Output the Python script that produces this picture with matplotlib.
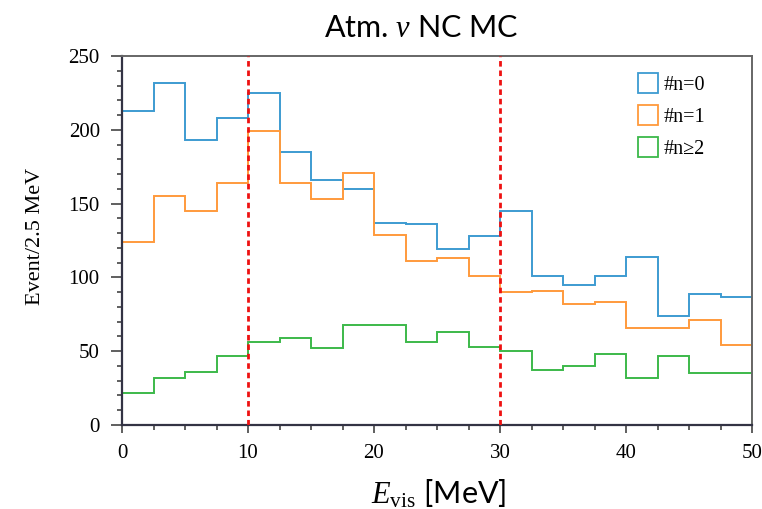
import numpy as np
import matplotlib.pyplot as plt
from matplotlib.patches import Patch
from matplotlib.ticker import MultipleLocator

# --- binned event counts, 2.5 MeV bins from 0 to 50 MeV ---
edges = np.arange(0, 50.01, 2.5)
n0 = [213, 232, 193, 208, 225, 185, 166, 160, 137, 136,
      119, 128, 145, 101, 95, 101, 114, 74, 89, 87]
n1 = [124, 155, 145, 164, 199, 164, 153, 171, 129, 111,
      113, 101, 90, 91, 82, 83, 66, 66, 71, 54]
n2 = [22, 32, 36, 47, 56, 59, 52, 68, 68, 56,
      63, 53, 50, 37, 40, 48, 32, 47, 35, 35]
labels = ["#n=0", "#n=1", "#n\u22652"]
colors = ["#3d9bd1", "#ff9a3c", "#3cb94a"]
cuts = [10, 30]

plt.rcParams["mathtext.fontset"] = "custom"
plt.rcParams["mathtext.rm"] = "Liberation Serif"
plt.rcParams["mathtext.it"] = "Liberation Serif:italic"

W, H = 762, 509
fig = plt.figure(figsize=(W / 100, H / 100), dpi=100)
ax = fig.add_axes([122 / W, 1 - 425 / H, 630 / W, 369 / H])

for vals, c in zip([n0, n1, n2], colors):
    ax.stairs(vals, edges, color=c, linewidth=1.4)

for x in cuts:
    ax.axvline(x, color="#ee1111", linestyle=(0, (2, 1.4)), linewidth=2.0, zorder=3)

ax.set_xlim(0, 50)
ax.set_ylim(0, 250)
ax.xaxis.set_major_locator(MultipleLocator(10))
ax.xaxis.set_minor_locator(MultipleLocator(2.5))
ax.yaxis.set_major_locator(MultipleLocator(50))
ax.yaxis.set_minor_locator(MultipleLocator(10))
ax.tick_params(which="both", direction="out", top=False, right=False,
               color="#444444", width=1.2)
ax.tick_params(axis="y", which="major", length=8, labelsize=15, pad=8)
ax.tick_params(axis="x", which="major", length=6, labelsize=15, pad=8)
ax.tick_params(which="minor", length=3.5)
for lab in ax.get_xticklabels() + ax.get_yticklabels():
    lab.set_family("Liberation Serif")

for s in ["left", "bottom"]:
    ax.spines[s].set_color("#333344")
    ax.spines[s].set_linewidth(1.6)
for s in ["top", "right"]:
    ax.spines[s].set_color("#666666")
    ax.spines[s].set_linewidth(1.4)

fig.text(35 / W, 1 - 236 / H, "Event/2.5 MeV", rotation=90, ha="center", va="center",
         family="Liberation Serif", fontsize=16)
fig.text(421 / W, 1 - 37 / H, r"Atm. $\nu$ NC MC", ha="center", va="baseline",
         fontsize=22, family="Lato")
fig.text(439 / W, 1 - 503 / H, r"$E_{\rm vis}$ [MeV]", ha="center", va="baseline",
         fontsize=22, family="Lato")

handles = [Patch(facecolor="none", edgecolor=c, linewidth=1.3) for c in colors]
ax.legend(handles, labels, loc="upper left", bbox_to_anchor=(638 / W, 1 - 73 / H),
          bbox_transform=fig.transFigure, frameon=False, borderpad=0, borderaxespad=0,
          handlelength=1.0, handleheight=1.15, handletextpad=0.25, labelspacing=0.5,
          prop={"family": ["Liberation Serif", "DejaVu Serif"], "size": 14.5})

fig.savefig("out.png", dpi=100)
